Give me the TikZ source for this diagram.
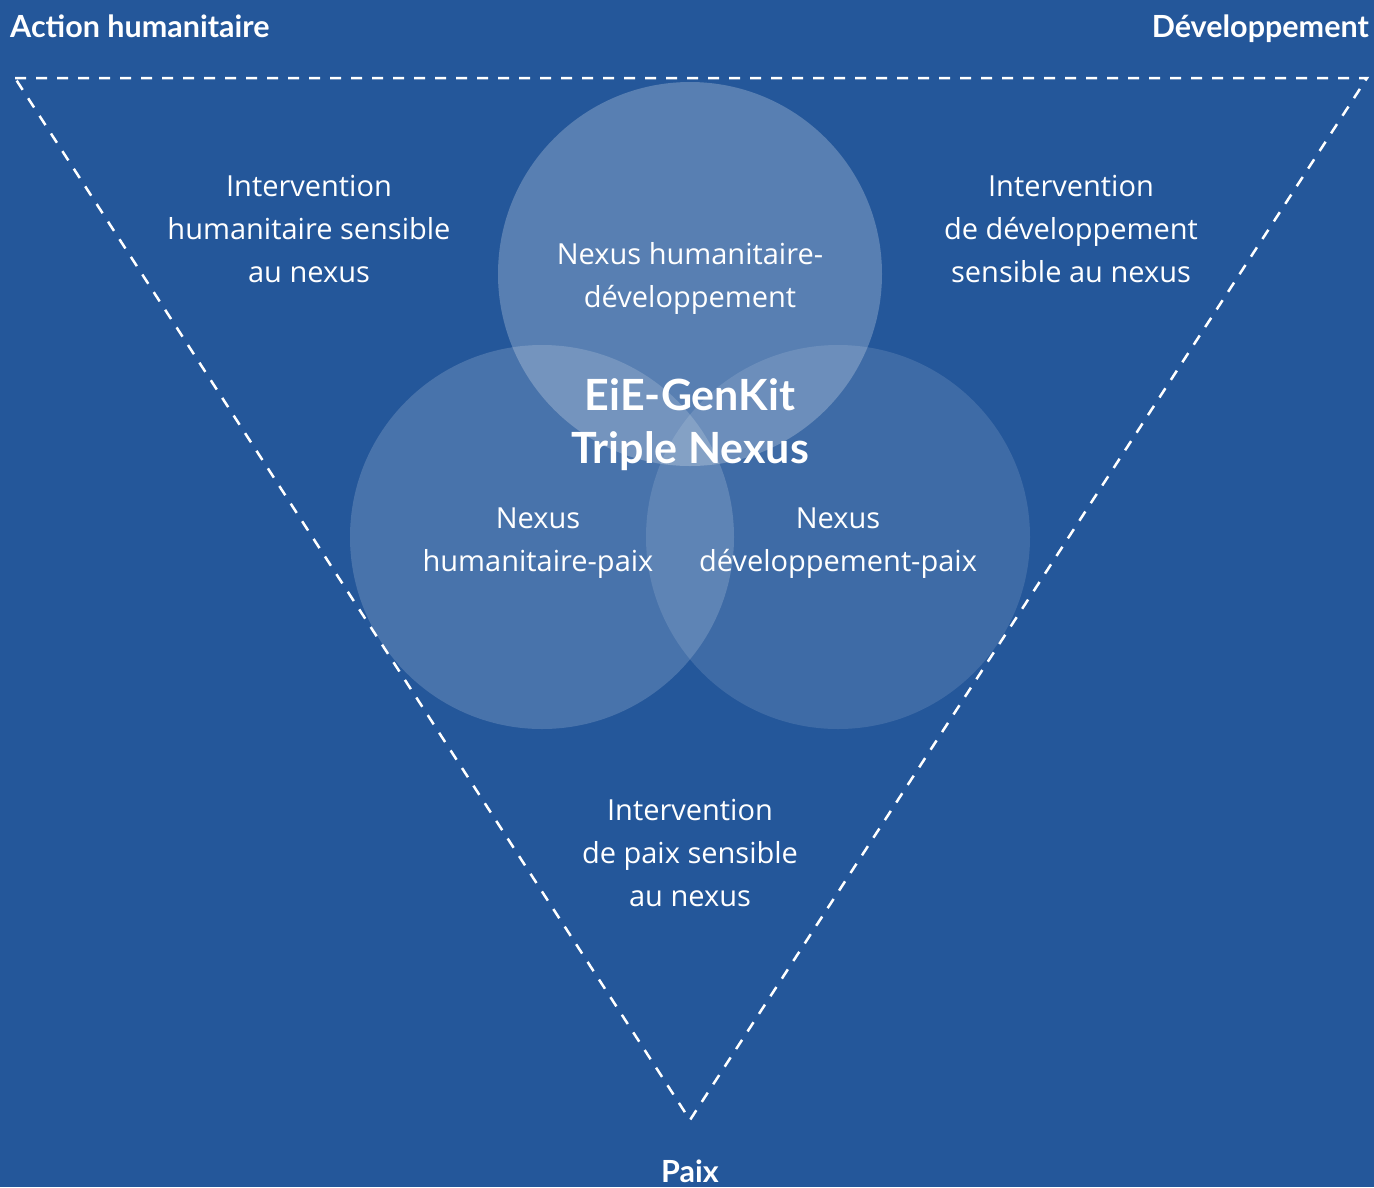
\documentclass[tikz,border=0pt]{standalone}
\usepackage{fontspec}
\setmainfont{Open Sans}
\newfontfamily\titlefont{Lato}
\definecolor{bgblue}{HTML}{24579A}
\begin{document}
\begin{tikzpicture}[x=1pt,y=-1pt,
  body/.style={text=white,align=center,font=\fontsize{29}{43}\selectfont},
  heading/.style={text=white,inner sep=0pt,font=\titlefont\bfseries\fontsize{30.5}{36}\selectfont},
  bigtitle/.style={text=white,align=center,font=\titlefont\bfseries\fontsize{43}{53}\selectfont},
  blob/.style={fill=white,draw=none},
  tri/.style={draw=white,line width=2.5pt,dash pattern=on 11pt off 10pt}]
\fill[bgblue] (0,0) rectangle (1374,1187);
\useasboundingbox (0,0) rectangle (1374,1187);
% circles
\fill[blob,fill opacity=0.24] (690,274) circle (192);
\fill[blob,fill opacity=0.17] (542,537) circle (192);
\fill[blob,fill opacity=0.12] (838,537) circle (192);
% triangle
\coordinate (tl) at (15,78);
\coordinate (tr) at (1367,78);
\coordinate (bt) at (690,1120);
\draw[tri] (tl) -- (tr) -- (bt) -- cycle;
% headings
\node[heading,anchor=base west] (ah) at (10,37) {Action humanitaire};
\node[heading,anchor=base east] (dev) at (1369,37) {Développement};
\node[heading,anchor=base] (paix) at (690,1182) {Paix};
% region texts
\node[body] (ih) at (309,229) {Intervention\\humanitaire sensible\\au nexus};
\node[body] (id) at (1071,229) {Intervention\\de développement\\sensible au nexus};
\node[body] (ip) at (690,853) {Intervention\\de paix sensible\\au nexus};
\node[body] (nhd) at (690,278) {Nexus humanitaire-\\développement};
\node[body] (nhp) at (538,543) {Nexus\\humanitaire-paix};
\node[body] (ndp) at (838,543) {Nexus\\développement-paix};
\node[bigtitle] (tn) at (690,424.5) {EiE-GenKit\\Triple Nexus};
\end{tikzpicture}
\end{document}
